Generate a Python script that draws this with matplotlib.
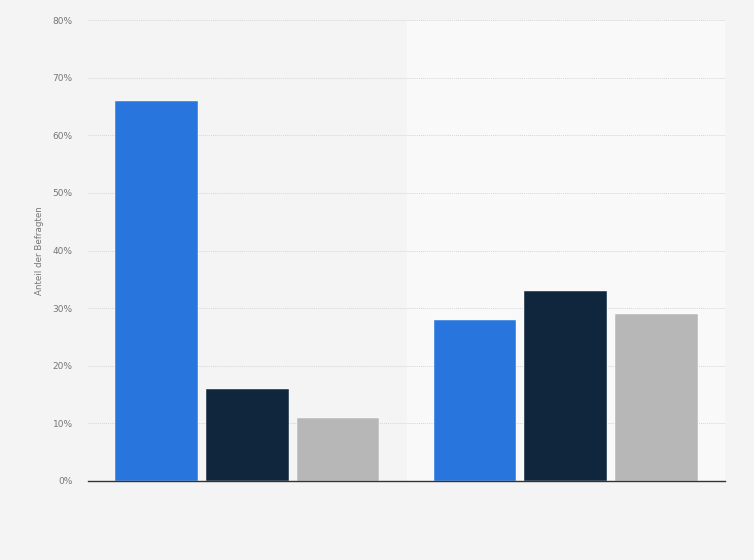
import matplotlib
matplotlib.use("Agg")
import matplotlib.pyplot as plt
import numpy as np

categories = ["Gruppe 1", "Gruppe 2"]
series_names = ["Serie A", "Serie B", "Serie C"]
values = [
    [66, 28],
    [16, 33],
    [11, 29],
]
colors = ["#2876dd", "#10263d", "#b7b7b7"]
yticks = [0, 10, 20, 30, 40, 50, 60, 70, 80]
ytick_labels = ["0%", "10%", "20%", "30%", "40%", "50%", "60%", "70%", "80%"]

fig = plt.figure(figsize=(7.54, 5.6), dpi=100)
fig.patch.set_facecolor("#f4f4f4")
ax = fig.add_axes([88/754, 1-481/560, (725-88)/754, (481-20)/560])
ax.set_facecolor("#f4f4f4")

x = np.arange(len(categories))
ax.axvspan(0.5, 1.5, color="#f9f9f9", zorder=0, lw=0)

width = 0.26
offsets = [-0.285, 0, 0.285]
for i, (vals, c) in enumerate(zip(values, colors)):
    ax.bar(x + offsets[i], vals, width=width, color=c, zorder=3,
           edgecolor="#ffffff", linewidth=0.3, label=series_names[i])

ax.set_xlim(-0.5, 1.5)
ax.set_ylim(0, 80)
ax.set_yticks(yticks)
ax.set_yticklabels(ytick_labels, fontsize=6.5, color="#777777")
ax.set_xticks([])
ax.yaxis.grid(True, linestyle=(0, (1, 1)), color="#d6d6d6", linewidth=0.7, zorder=1)
ax.tick_params(axis="y", length=0, pad=11)
for s in ["top", "right", "left"]:
    ax.spines[s].set_visible(False)
ax.spines["bottom"].set_color("#333333")
ax.spines["bottom"].set_linewidth(1)
ax.spines["bottom"].set_zorder(4)
ax.set_ylabel("Anteil der Befragten", fontsize=6.3, color="#777777", labelpad=6)

fig.savefig("out.png", dpi=100, facecolor=fig.get_facecolor())
